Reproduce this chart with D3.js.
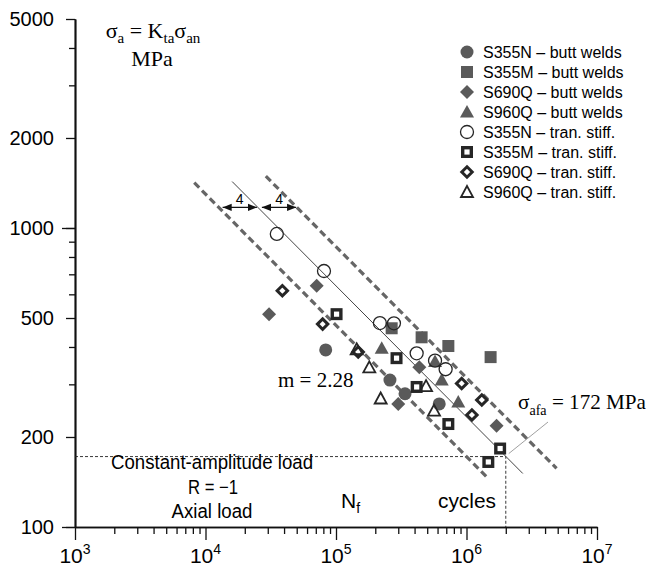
<!DOCTYPE html>
<html>
<head>
<meta charset="utf-8">
<script src="https://cdn.jsdelivr.net/npm/d3@7/dist/d3.min.js"></script>
<style>
  body { margin: 0; background: #fff; }
  svg { display: block; }
  .sans { font-family: Arial, "Liberation Sans", sans-serif; }
  .serif { font-family: "Times New Roman", "Liberation Serif", serif; }
</style>
</head>
<body>
<div id="chart"></div>
<script>
// cycles to failure N, stress amplitude (MPa)
var s355nButt = [[8.34e4, 391], [2.59e5, 310], [3.38e5, 279], [6.18e5, 258]];
var s355mButt = [[2.67e5, 462], [4.53e5, 431], [7.26e5, 403], [1.53e6, 370]];
var s690qButt = [[3.07e4, 515], [7.11e4, 641], [4.35e5, 342], [3.0e5, 258], [1.70e6, 218]];
var s960qButt = [[2.24e5, 396], [5.74e5, 358], [6.46e5, 310], [8.65e5, 262]];
var s355nStiff = [[3.52e4, 955], [8.09e4, 718], [2.17e5, 481], [2.78e5, 480], [4.15e5, 381], [5.74e5, 360], [6.92e5, 337]];
var s355mStiff = [[1.01e5, 515], [2.91e5, 367], [4.15e5, 294], [7.26e5, 221], [1.81e6, 183], [1.47e6, 165]];
var s690qStiff = [[3.88e4, 617], [7.9e4, 477], [1.48e5, 385], [9.18e5, 302], [1.31e6, 266], [1.10e6, 237]];
var s960qStiff = [[1.44e5, 393], [1.80e5, 342], [4.9e5, 296], [2.2e5, 269], [5.64e5, 245]];

var seriesNames = ["S355N \u2013 butt welds", "S355M \u2013 butt welds", "S690Q \u2013 butt welds", "S960Q \u2013 butt welds",
                   "S355N \u2013 tran. stiff.", "S355M \u2013 tran. stiff.", "S690Q \u2013 tran. stiff.", "S960Q \u2013 tran. stiff."];
var seriesShapes = ["circleF", "squareF", "diamondF", "triF", "circleO", "squareO", "diamondO", "triO"];
var seriesData = [s355nButt, s355mButt, s690qButt, s960qButt, s355nStiff, s355mStiff, s690qStiff, s960qStiff];

// mean curve (m = 2.28) and scatter band
var meanLine = [[1.6e4, 1430], [2.7e6, 151]];
var lowerBand = [[8.2e3, 1417], [1.43e6, 147]];
var upperBand = [[2.9e4, 1490], [4.9e6, 157]];
var bandArrows = [[1.26e4, 2.52e4], [2.52e4, 5.04e4]];
var arrowStress = 1172;
var fatigueLimit = [2e6, 172];

var xMajor = [1e3, 1e4, 1e5, 1e6, 1e7];
var xExp = ["3", "4", "5", "6", "7"];
var yMajor = [100, 200, 500, 1000, 2000, 5000];
var yMinor = [300, 400, 600, 700, 800, 900, 3000, 4000];

var W = 648, H = 571;
var x = d3.scaleLog().domain([1e3, 1e7]).range([75, 597]);
var y = d3.scaleLog().domain([100, 5000]).range([527, 19]);

var svg = d3.select("#chart").append("svg")
    .attr("width", W)
    .attr("height", H);

// x minor ticks: 2..9 in every decade
var xMinor = [];
xMajor.slice(0, 4).forEach(function(d) {
    for (var k = 2; k < 10; k++) xMinor.push(d * k);
});

var axisColor = "#111";

svg.append("g")
    .attr("transform", "translate(0,527)")
    .call(d3.axisBottom(x).tickValues(xMinor).tickSize(7).tickSizeOuter(0).tickFormat(""));
svg.append("g")
    .attr("transform", "translate(0,527)")
    .call(d3.axisBottom(x).tickValues(xMajor).tickSize(13).tickSizeOuter(0).tickFormat(""));

svg.append("g")
    .attr("transform", "translate(75,0)")
    .call(d3.axisLeft(y).tickValues(yMinor).tickSize(6).tickSizeOuter(0).tickFormat(""));
svg.append("g")
    .attr("transform", "translate(75,0)")
    .call(d3.axisLeft(y).tickValues(yMajor).tickSize(9).tickSizeOuter(0).tickFormat(""));
svg.append("g")
    .attr("transform", "translate(75,0)")
    .call(d3.axisLeft(y).tickValues([100, 1000]).tickSize(13).tickSizeOuter(0).tickFormat(""));

svg.selectAll(".domain").attr("stroke", axisColor).attr("stroke-width", 1.5);
svg.selectAll(".tick line").attr("stroke", axisColor).attr("stroke-width", 1.3);

// y labels
svg.selectAll(".ylab")
    .data(yMajor)
    .enter().append("text")
    .attr("class", "sans")
    .attr("x", 54)
    .attr("y", function(d) { return y(d); })
    .attr("dy", "0.36em")
    .attr("text-anchor", "end")
    .attr("font-size", 20)
    .text(function(d) { return d; });

// x labels with exponent
var xl = svg.selectAll(".xlab")
    .data(xMajor)
    .enter().append("text")
    .attr("class", "sans")
    .attr("x", function(d) { return x(d); })
    .attr("y", 563)
    .attr("text-anchor", "middle")
    .attr("font-size", 21);
xl.append("tspan").text("10");
xl.append("tspan")
    .attr("dy", -9)
    .attr("font-size", 14)
    .text(function(d, i) { return xExp[i]; });

// dotted guides to the fatigue limit
svg.append("path")
    .attr("d", "M" + x(1e3) + "," + y(fatigueLimit[1]) + "H" + x(fatigueLimit[0]) + "V" + y(100))
    .attr("fill", "none")
    .attr("stroke", "#222")
    .attr("stroke-width", 0.9)
    .attr("stroke-dasharray", "3,2");

// band lines
var line = d3.line()
    .x(function(d) { return x(d[0]); })
    .y(function(d) { return y(d[1]); });

[lowerBand, upperBand].forEach(function(b) {
    svg.append("path")
        .datum(b)
        .attr("d", line)
        .attr("fill", "none")
        .attr("stroke", "#666")
        .attr("stroke-width", 3.2)
        .attr("stroke-dasharray", "7,4");
});
svg.append("path")
    .datum(meanLine)
    .attr("d", line)
    .attr("fill", "none")
    .attr("stroke", "#444")
    .attr("stroke-width", 1);

// arrows with "4"
var defs = svg.append("defs");
defs.append("marker")
    .attr("id", "ah")
    .attr("viewBox", "0 0 10 10")
    .attr("refX", 10).attr("refY", 5)
    .attr("markerWidth", 7).attr("markerHeight", 7)
    .attr("orient", "auto-start-reverse")
    .append("path")
    .attr("d", "M0,1L10,5L0,9Z")
    .attr("fill", "#111");

bandArrows.forEach(function(a) {
    var x1 = x(a[0]) + 4, x2 = x(a[1]) - 1;
    svg.append("line")
        .attr("x1", x1).attr("x2", x2)
        .attr("y1", y(arrowStress)).attr("y2", y(arrowStress))
        .attr("stroke", "#111")
        .attr("stroke-width", 1.3)
        .attr("marker-start", "url(#ah)")
        .attr("marker-end", "url(#ah)");
    svg.append("text")
        .attr("class", "sans")
        .attr("x", (x1 + x2) / 2)
        .attr("y", y(arrowStress) - 3)
        .attr("text-anchor", "middle")
        .attr("font-size", 14)
        .text("4");
});

// markers
var gray = "#5a5a5a", dark = "#262626";

function drawMarker(g, shape, px, py) {
    if (shape === "circleF") {
        g.append("circle").attr("cx", px).attr("cy", py).attr("r", 6.5).attr("fill", gray);
    } else if (shape === "squareF") {
        g.append("rect").attr("x", px - 6).attr("y", py - 6).attr("width", 12).attr("height", 12).attr("fill", gray);
    } else if (shape === "diamondF") {
        g.append("path").attr("d", "M" + px + "," + (py - 7) + "L" + (px + 7) + "," + py + "L" + px + "," + (py + 7) + "L" + (px - 7) + "," + py + "Z").attr("fill", gray);
    } else if (shape === "triF") {
        g.append("path").attr("d", "M" + px + "," + (py - 7) + "L" + (px + 7) + "," + (py + 5.5) + "L" + (px - 7) + "," + (py + 5.5) + "Z").attr("fill", gray);
    } else if (shape === "circleO") {
        g.append("circle").attr("cx", px).attr("cy", py).attr("r", 6.5).attr("fill", "none").attr("stroke", dark).attr("stroke-width", 1.3);
    } else if (shape === "squareO") {
        g.append("rect").attr("x", px - 4.3).attr("y", py - 4.3).attr("width", 8.6).attr("height", 8.6)
            .attr("fill", "#fff").attr("stroke", dark).attr("stroke-width", 3.4);
    } else if (shape === "diamondO") {
        g.append("path").attr("d", "M" + px + "," + (py - 5.2) + "L" + (px + 5.2) + "," + py + "L" + px + "," + (py + 5.2) + "L" + (px - 5.2) + "," + py + "Z")
            .attr("fill", "#fff").attr("stroke", dark).attr("stroke-width", 3);
    } else if (shape === "triO") {
        g.append("path").attr("d", "M" + px + "," + (py - 6) + "L" + (px + 6) + "," + (py + 5) + "L" + (px - 6) + "," + (py + 5) + "Z")
            .attr("fill", "none").attr("stroke", dark).attr("stroke-width", 1.8).attr("stroke-linejoin", "miter");
    }
}

var pts = svg.append("g");
seriesData.forEach(function(data, i) {
    data.forEach(function(d) {
        drawMarker(pts, seriesShapes[i], x(d[0]), y(d[1]));
    });
});

// legend
var leg = svg.append("g");
seriesNames.forEach(function(name, i) {
    var ly = 52 + i * 20;
    drawMarker(leg, seriesShapes[i], 467, ly);
    leg.append("text")
        .attr("class", "sans")
        .attr("x", 483)
        .attr("y", ly)
        .attr("dy", "0.36em")
        .attr("font-size", 16)
        .text(name);
});

// annotations
function serif(tx, ty, anchor, size) {
    return svg.append("text")
        .attr("class", "serif")
        .attr("x", tx).attr("y", ty)
        .attr("text-anchor", anchor)
        .attr("font-size", size);
}
var t1 = serif(153, 38, "middle", 22);
t1.append("tspan").text("\u03c3");
t1.append("tspan").attr("dy", 5).attr("font-size", 15).text("a");
t1.append("tspan").attr("dy", -5).text(" = K");
t1.append("tspan").attr("dy", 5).attr("font-size", 15).text("ta");
t1.append("tspan").attr("dy", -5).text("\u03c3");
t1.append("tspan").attr("dy", 5).attr("font-size", 15).text("an");
serif(152, 66, "middle", 22).text("MPa");

serif(278, 387, "start", 21).text("m = 2.28");

var t2 = serif(518, 409, "start", 21)
    .attr("textLength", 128)
    .attr("lengthAdjust", "spacingAndGlyphs");
t2.append("tspan").text("\u03c3");
t2.append("tspan").attr("dy", 6).attr("font-size", 14).text("afa");
t2.append("tspan").attr("dy", -6).text(" = 172 MPa");

svg.append("line")
    .attr("x1", x(fatigueLimit[0]) + 3).attr("y1", y(fatigueLimit[1]) - 3)
    .attr("x2", 548).attr("y2", 422)
    .attr("stroke", "#888")
    .attr("stroke-width", 0.8);

function sans(tx, ty, anchor, size, str, len) {
    var t = svg.append("text")
        .attr("class", "sans")
        .attr("x", tx).attr("y", ty)
        .attr("text-anchor", anchor)
        .attr("font-size", size)
        .text(str);
    if (len) t.attr("textLength", len).attr("lengthAdjust", "spacingAndGlyphs");
}
sans(212, 469, "middle", 20, "Constant-amplitude load", 202);
sans(213, 494, "middle", 20, "R = \u22121", 50);
sans(212, 518, "middle", 20, "Axial load", 81);
var nf = svg.append("text").attr("class", "sans").attr("x", 341).attr("y", 508).attr("font-size", 21);
nf.append("tspan").text("N");
nf.append("tspan").attr("dy", 5).attr("font-size", 14).text("f");
sans(467, 508, "middle", 21, "cycles", 58);
</script>
</body>
</html>
